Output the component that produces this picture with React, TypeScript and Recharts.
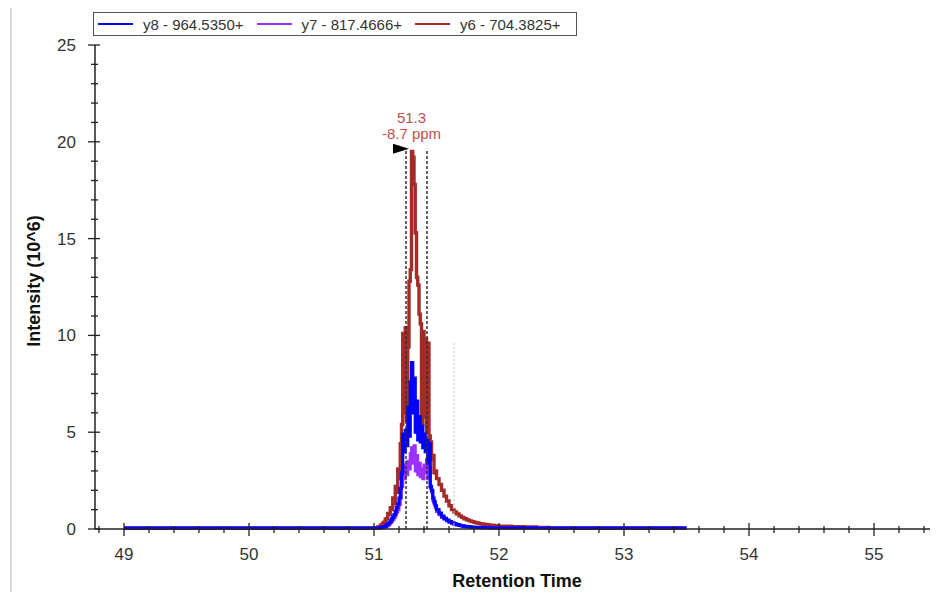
import {
  LineChart,
  Line,
  XAxis,
  YAxis,
  ReferenceLine,
  ReferenceDot,
} from 'recharts';

// retention time (min)
const times = [
  49, 49.5, 50, 50.5, 51,
  51.01, 51.02, 51.03, 51.04, 51.05, 51.06, 51.07, 51.08, 51.09, 51.1,
  51.11, 51.12, 51.13, 51.14, 51.15, 51.16, 51.17, 51.18, 51.19, 51.2,
  51.21, 51.22, 51.23, 51.24, 51.25, 51.26, 51.27, 51.28, 51.29, 51.3,
  51.31, 51.32, 51.33, 51.34, 51.35, 51.36, 51.37, 51.38, 51.39, 51.4,
  51.41, 51.42, 51.43, 51.44, 51.45, 51.46, 51.47, 51.48, 51.49, 51.5,
  51.52, 51.54, 51.56, 51.58, 51.6, 51.62, 51.64, 51.66, 51.68, 51.7,
  51.72, 51.74, 51.76, 51.78, 51.8, 51.82, 51.84, 51.86, 51.88, 51.9,
  51.92, 51.94, 51.96, 51.98, 52,
  52.1, 52.2, 52.3, 52.4, 52.5, 52.75, 53, 53.25, 53.5,
];

// y8 - 964.5350+
const y8 = [
  0.05, 0.05, 0.05, 0.05, 0.05,
  0.05, 0.05, 0.05, 0.06, 0.07, 0.08, 0.1, 0.12, 0.15, 0.2,
  0.26, 0.33, 0.42, 0.52, 0.63, 0.75, 0.9, 1.1, 1.3, 1.6,
  2.1, 2.9, 4.9, 4.0, 5.1, 4.3, 6.3, 4.8, 7.6, 8.6,
  6.0, 7.8, 5.0, 6.6, 4.6, 5.8, 4.5, 5.3, 4.2, 4.9,
  4.0, 4.6, 3.4, 4.4, 2.2, 2.0, 1.6, 1.4, 1.2, 1.0,
  0.82, 0.66, 0.55, 0.46, 0.38, 0.32, 0.27, 0.23, 0.19, 0.16,
  0.14, 0.12, 0.11, 0.1, 0.09, 0.08, 0.08, 0.07, 0.07, 0.07,
  0.06, 0.06, 0.06, 0.06, 0.06,
  0.06, 0.06, 0.05, 0.05, 0.05, 0.05, 0.05, 0.05, 0.05,
];

// y7 - 817.4666+
const y7 = [
  0.04, 0.04, 0.04, 0.04, 0.04,
  0.04, 0.04, 0.05, 0.05, 0.06, 0.07, 0.08, 0.1, 0.12, 0.16,
  0.2, 0.26, 0.33, 0.4, 0.5, 0.6, 0.72, 0.86, 1.0, 1.25,
  1.6, 2.2, 3.0, 2.6, 3.3, 2.8, 3.5, 3.1, 3.9, 4.2,
  3.4, 4.3, 3.0, 3.8, 2.8, 3.4, 2.7, 3.1, 2.6, 3.3,
  2.9, 3.6, 2.6, 3.2, 2.1, 1.9, 1.5, 1.3, 1.1, 0.9,
  0.74, 0.6, 0.5, 0.42, 0.35, 0.29, 0.25, 0.21, 0.18, 0.15,
  0.13, 0.11, 0.1, 0.09, 0.08, 0.07, 0.07, 0.06, 0.06, 0.06,
  0.05, 0.05, 0.05, 0.05, 0.05,
  0.05, 0.05, 0.05, 0.05, 0.05, 0.05, 0.05, 0.05, 0.05,
];

// y6 - 704.3825+
const y6 = [
  0.05, 0.05, 0.05, 0.05, 0.05,
  0.05, 0.06, 0.1, 0.12, 0.18, 0.22, 0.3, 0.35, 0.5, 0.55,
  0.8, 0.75, 1.1, 1.0, 1.6, 1.3, 2.2, 1.9, 3.1, 2.6,
  4.4, 5.4, 10.1, 6.0, 10.4, 5.6, 9.4, 12.8, 13.4, 19.5,
  19.2, 17.8, 15.3, 13.0, 12.6, 11.1, 10.6, 5.4, 10.2, 5.8,
  9.8, 5.0, 9.6, 4.8, 4.5, 3.6, 3.8, 2.9, 3.0, 2.6,
  2.3, 2.0, 1.7, 1.45, 1.2, 1.0, 0.88, 0.78, 0.68, 0.6,
  0.53, 0.47, 0.42, 0.38, 0.34, 0.31, 0.28, 0.26, 0.24, 0.22,
  0.2, 0.19, 0.17, 0.16, 0.15,
  0.12, 0.1, 0.08, 0.06, 0.05, 0.05, 0.05, 0.05, 0.05,
];

const xTicks = [
  48.8, 49, 49.2, 49.4, 49.6, 49.8, 50, 50.2, 50.4, 50.6, 50.8, 51,
  51.2, 51.4, 51.6, 51.8, 52, 52.2, 52.4, 52.6, 52.8, 53, 53.2, 53.4,
  53.6, 53.8, 54, 54.2, 54.4, 54.6, 54.8, 55, 55.2, 55.4,
];
const yTicks = [
  0, 1, 2, 3, 4, 5, 6, 7, 8, 9, 10, 11, 12, 13, 14, 15, 16, 17, 18, 19,
  20, 21, 22, 23, 24, 25,
];

// apex annotation and integration window
const apexTime = 51.3;
const apexLabel = ['51.3', '-8.7 ppm'];
const windowStart = 51.256;
const windowEnd = 51.424;
const windowTop = 19.64;
const markerTime = 51.64;
const markerTop = 9.6;

const series = [
  { key: 'y8', name: 'y8 - 964.5350+', color: '#0000ff', width: 3.2 },
  { key: 'y7', name: 'y7 - 817.4666+', color: '#9b30ff', width: 3 },
  { key: 'y6', name: 'y6 - 704.3825+', color: '#a52a2a', width: 3.4 },
];

const rows = times.map((t, i) => ({ t, y8: y8[i], y7: y7[i], y6: y6[i] }));

const FONT = 'Arial, "Liberation Sans", sans-serif';

const XTick = ({ x, y, payload }: any) => {
  const v = payload.value;
  const major = Math.abs(v - Math.round(v)) < 1e-6;
  return (
    <g>
      <line x1={x} x2={x} y1={y - (major ? 6 : 3)} y2={y + (major ? 7 : 4)} stroke='#222' strokeWidth={1.3} />
      {major && (
        <text x={x} y={y + 31} textAnchor='middle' fontSize={17} fill='#333' fontFamily={FONT}>
          {Math.round(v)}
        </text>
      )}
    </g>
  );
};

const YTick = ({ x, y, payload }: any) => {
  const v = payload.value;
  const major = v % 5 === 0;
  return (
    <g>
      <line x1={x - (major ? 7 : 4)} x2={x + (major ? 5 : 3)} y1={y} y2={y} stroke='#222' strokeWidth={1.3} />
      {major && (
        <text x={x - 19} y={y + 6} textAnchor='end' fontSize={17} fill='#333' fontFamily={FONT}>
          {v}
        </text>
      )}
    </g>
  );
};

const YTitle = () => (
  <text
    x={40}
    y={281}
    transform='rotate(-90 40 281)'
    textAnchor='middle'
    fontSize={18}
    fontWeight='bold'
    fill='#111'
    fontFamily={FONT}
  >
    Intensity (10^6)
  </text>
);

const XTitle = () => (
  <text x={517} y={587} textAnchor='middle' fontSize={18} fontWeight='bold' fill='#111' fontFamily={FONT}>
    Retention Time
  </text>
);

const App = () => {
  return (
    <div style={{ position: 'relative', width: 938, height: 592, margin: '-8px 0 0 -8px', fontFamily: FONT }}>
      <div style={{ position: 'absolute', left: 10, top: 0, width: 2, height: 592, background: '#d9d9d9' }} />
      <LineChart width={938} height={592} data={rows} margin={{ top: 45, right: 0, bottom: 0, left: 0 }}>
        <XAxis
          dataKey='t'
          type='number'
          domain={[48.768, 55.512]}
          allowDataOverflow
          ticks={xTicks}
          interval={0}
          tickSize={0}
          tickMargin={0}
          tickLine={false}
          tick={<XTick />}
          height={63}
          axisLine={{ stroke: '#222', strokeWidth: 1.5 }}
          label={<XTitle />}
        />
        <YAxis
          type='number'
          domain={[0, 25]}
          ticks={yTicks}
          interval={0}
          tickSize={0}
          tickMargin={0}
          tickLine={false}
          tick={<YTick />}
          width={95}
          axisLine={{ stroke: '#222', strokeWidth: 1.5 }}
          label={<YTitle />}
        />
        {[...series].reverse().map((s) => (
          <Line
            key={s.key}
            dataKey={s.key}
            type='stepAfter'
            stroke={s.color}
            strokeWidth={s.width}
            dot={false}
            activeDot={false}
            isAnimationActive={false}
          />
        ))}
        <ReferenceLine
          segment={[{ x: markerTime, y: 0 }, { x: markerTime, y: markerTop }]}
          stroke='#c8c8c8'
          strokeDasharray='2 2'
        />
        <ReferenceLine
          segment={[{ x: windowStart, y: 0 }, { x: windowStart, y: windowTop }]}
          stroke='#333'
          strokeWidth={1.5}
          strokeDasharray='3 2'
        />
        <ReferenceLine
          segment={[{ x: windowEnd, y: 0 }, { x: windowEnd, y: windowTop }]}
          stroke='#333'
          strokeWidth={1.5}
          strokeDasharray='3 2'
        />
        <ReferenceDot
          x={windowStart}
          y={windowTop}
          shape={(p: any) => (
            <polygon
              points={`${p.cx - 13},${p.cy - 5} ${p.cx + 3},${p.cy} ${p.cx - 13},${p.cy + 5}`}
              fill='#000'
            />
          )}
        />
        <ReferenceDot
          x={apexTime}
          y={windowTop}
          shape={(p: any) => (
            <g fontFamily={FONT} fontSize={15} fill='#c0504d' textAnchor='middle'>
              <text x={p.cx} y={p.cy - 26}>{apexLabel[0]}</text>
              <text x={p.cx} y={p.cy - 10}>{apexLabel[1]}</text>
            </g>
          )}
        />
      </LineChart>
      <div
        style={{
          position: 'absolute',
          left: 93,
          top: 12,
          width: 478,
          height: 22,
          border: '1.5px solid #555',
          display: 'flex',
          alignItems: 'center',
          paddingLeft: 4,
          fontSize: 15,
          color: '#333',
          whiteSpace: 'nowrap',
        }}
      >
        {series.map((s) => (
          <div key={s.key} style={{ display: 'flex', alignItems: 'center', marginRight: 13 }}>
            <div style={{ width: 35, height: 2, background: s.color, marginRight: 10 }} />
            <span>{s.name}</span>
          </div>
        ))}
      </div>
    </div>
  );
};

export default App;
